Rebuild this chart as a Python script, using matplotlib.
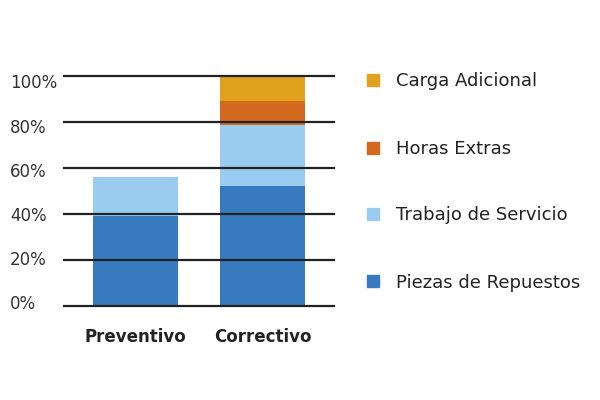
import matplotlib.pyplot as plt
from matplotlib.patches import Rectangle

categories = ['Preventivo', 'Correctivo']
series = ['Piezas de Repuestos', 'Trabajo de Servicio', 'Horas Extras', 'Carga Adicional']
piezas = [39, 52]
trabajo = [17, 26.5]
horas = [0, 10.5]
carga = [0, 11]
colors = ['#387abe', '#99ccf0', '#d2691e', '#e0a21d']
yticks = [0, 20, 40, 60, 80, 100]
ytick_labels = ['0%', '20%', '40%', '60%', '80%', '100%']

plt.rcParams['font.family'] = ['DejaVu Sans']

fig = plt.figure(figsize=(6, 4), dpi=100)
ax = fig.add_axes([64 / 600, 1 - 306 / 400, 270 / 600, 230 / 400])

x = range(len(categories))
bottom = [0, 0]
for vals, col in zip([piezas, trabajo, horas, carga], colors):
    ax.bar(x, vals, width=0.667, bottom=bottom, color=col, zorder=1)
    bottom = [b + v for b, v in zip(bottom, vals)]

for t in yticks:
    ax.axhline(t, color='#222222', lw=1.6, zorder=3, clip_on=False)

ax.set_xlim(-0.56, 1.557)
ax.set_ylim(0, 100)
for s in ax.spines.values():
    s.set_visible(False)
ax.set_yticks([])

# y labels, left aligned; in the original they sit on a slightly squeezed scale
for t, lab in zip(yticks, ytick_labels):
    ax.text(-54 / 270, 0.0087 + 0.00959 * t, lab, transform=ax.transAxes,
            fontsize=12, color='#333333', ha='left', va='center')

ax.set_xticks(list(x))
ax.set_xticklabels(categories, fontsize=12, fontweight='bold', color='#222222')
ax.tick_params(axis='x', length=0, pad=16)

# legend drawn by hand, top entry is the last series
leg_y = [281, 214, 148, 80]
for name, col, yy in zip(series, colors, leg_y):
    fig.patches.append(Rectangle((367 / 600, 1 - (yy + 6) / 400), 12 / 600, 12 / 400,
                                 transform=fig.transFigure, color=col))
    fig.text(396 / 600, 1 - (yy + 6.5) / 400, name, fontsize=13, color='#222222',
             va='baseline')

plt.savefig('out.png', dpi=100)
